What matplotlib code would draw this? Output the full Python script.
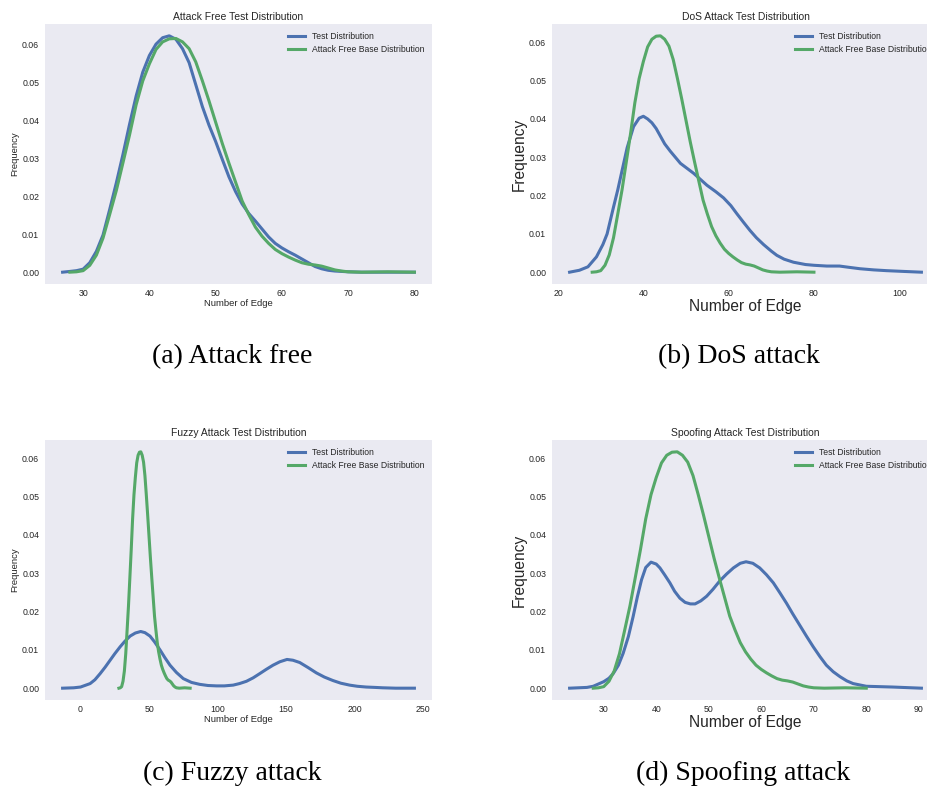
import matplotlib
matplotlib.use("Agg")
import matplotlib.pyplot as plt

# attack free base distribution (same curve in every panel)
base_x = [28, 29, 30, 31, 32, 33, 34, 35, 36, 37, 38, 39, 40, 41, 42, 43, 44, 45,
          46, 47, 48, 49, 50, 51, 52, 53, 54, 55, 56, 57, 58, 59, 60, 61, 62, 63,
          64, 65, 66, 67, 68, 69, 70, 72, 76, 80]
base_y = [0.0, 0.0001, 0.0004, 0.0018, 0.0045, 0.0090, 0.0152, 0.0215, 0.0288,
          0.0362, 0.0442, 0.0505, 0.0550, 0.0588, 0.0608, 0.0616, 0.0617, 0.0608,
          0.0590, 0.0555, 0.0505, 0.0452, 0.0396, 0.0340, 0.0288, 0.0238, 0.0188,
          0.0152, 0.0119, 0.0095, 0.0076, 0.0060, 0.0049, 0.0040, 0.0032, 0.0025,
          0.0021, 0.0019, 0.0016, 0.0011, 0.0006, 0.0003, 0.0001, 0.0, 0.0001, 0.0]

# test distributions
free_x = [26.9, 28, 29, 30, 31, 32, 33, 34, 35, 36, 37, 38, 39, 40, 41, 42, 43, 44,
          45, 46, 47, 48, 49, 50, 51, 52, 53, 54, 55, 56, 57, 58, 59, 60, 61, 62,
          63, 64, 65, 66, 67, 68, 70, 72, 80]
free_y = [0.0, 0.0002, 0.0004, 0.0008, 0.0025, 0.0055, 0.0098, 0.0165, 0.0235,
          0.0310, 0.0390, 0.0465, 0.0528, 0.0572, 0.0602, 0.0619, 0.0624, 0.0615,
          0.0590, 0.0553, 0.0495, 0.0437, 0.0388, 0.0345, 0.0298, 0.0252, 0.0213,
          0.0180, 0.0155, 0.0135, 0.0114, 0.0093, 0.0076, 0.0064, 0.0054, 0.0045,
          0.0035, 0.0025, 0.0015, 0.0009, 0.0005, 0.0003, 0.0001, 0.0, 0.0]

dos_x = [22.7, 25, 27, 29, 30.5, 31.5, 33, 34, 35, 36.2, 37.7, 39, 40, 41, 42, 43,
         44, 45, 46.3, 48.7, 51.8, 54.9, 57, 58.8, 60.5, 61.9, 63.5, 65, 66.5, 68.2,
         70, 71.3, 73, 75.2, 78, 80, 83, 86, 88, 90.8, 94, 97, 101, 105.2]
dos_y = [0.0, 0.0005, 0.0014, 0.0040, 0.0072, 0.0100, 0.0170, 0.0215, 0.0265,
         0.0325, 0.0380, 0.0402, 0.0407, 0.0400, 0.0390, 0.0375, 0.0355, 0.0335,
         0.0316, 0.0284, 0.0258, 0.0227, 0.0210, 0.0194, 0.0174, 0.0153, 0.0130,
         0.0109, 0.0090, 0.0072, 0.0055, 0.0044, 0.0034, 0.0026, 0.0020, 0.0018,
         0.0016, 0.0016, 0.0013, 0.0009, 0.0006, 0.0004, 0.0002, 0.0]

fuzzy_x = [-13.1, -5, 0, 7, 10.5, 14.3, 18, 21.6, 25, 28.9, 32.5, 36.2, 40, 43.9,
           47, 50.7, 54, 58, 61.5, 65.3, 70, 75, 81, 87, 93, 99.3, 105, 111.4, 116,
           121.1, 126, 130.8, 135.5, 140.5, 145.5, 150.7, 155, 160, 166, 172.1, 178,
           184.2, 190, 196.4, 202, 208.5, 215, 220.6, 230, 243.7]
fuzzy_y = [0.0, 0.0001, 0.0003, 0.0012, 0.0022, 0.0038, 0.0055, 0.0073, 0.0090,
           0.0108, 0.0123, 0.0136, 0.0144, 0.0148, 0.0145, 0.0136, 0.0121, 0.0100,
           0.0080, 0.0060, 0.0041, 0.0025, 0.0015, 0.0010, 0.0007, 0.0006, 0.0006,
           0.0008, 0.0012, 0.0018, 0.0027, 0.0038, 0.0049, 0.0060, 0.0069, 0.0075,
           0.0073, 0.0067, 0.0054, 0.0040, 0.0029, 0.0020, 0.0013, 0.0008, 0.0005,
           0.0003, 0.0002, 0.0001, 0.0, 0.0]

spoof_x = [23.5, 26.8, 28, 30, 31, 31.8, 32.8, 33.7, 34.7, 35.6, 36.4, 37.2, 38, 39,
           40, 40.7, 41.6, 42.6, 43.5, 44.5, 45.5, 46.5, 47.4, 48.5, 49.6, 50.8, 52.1,
           53.4, 54.7, 56, 57.1, 58.4, 59.7, 61, 62.3, 63.5, 64.8, 66, 67.3, 68.6,
           69.9, 71.2, 72.4, 73.7, 75, 76.3, 77.5, 80, 85, 90.5]
spoof_y = [0.0, 0.0002, 0.0005, 0.0017, 0.0026, 0.0038, 0.0060, 0.0091, 0.0135,
           0.0187, 0.0238, 0.0283, 0.0315, 0.0329, 0.0324, 0.0314, 0.0296, 0.0275,
           0.0253, 0.0235, 0.0224, 0.0220, 0.0220, 0.0228, 0.0240, 0.0258, 0.0280,
           0.0298, 0.0314, 0.0326, 0.0330, 0.0326, 0.0314, 0.0296, 0.0275, 0.0250,
           0.0222, 0.0194, 0.0165, 0.0136, 0.0108, 0.0082, 0.0060, 0.0043, 0.0030,
           0.0019, 0.0012, 0.0005, 0.0003, 0.0]

titles = ["Attack Free Test Distribution", "DoS Attack Test Distribution",
          "Fuzzy Attack Test Distribution", "Spoofing Attack Test Distribution"]
captions = ["(a) Attack free", "(b) DoS attack", "(c) Fuzzy attack", "(d) Spoofing attack"]
test_label = "Test Distribution"
base_label = "Attack Free Base Distribution"

plt.rcParams['font.family'] = ['Liberation Sans', 'DejaVu Sans']
text_color = '#262626'

fig = plt.figure(figsize=(9.27, 7.92), dpi=100)

W, H = 927.0, 792.0
# pixel boxes: left, top, right, bottom (right panels run past the edge)
boxes = [(45, 24, 432, 284), (552, 24, 939, 284),
         (45, 440, 432, 700), (552, 440, 939, 700)]
label_sizes = [6.8, 11.2, 6.8, 11.2]
tests = [(free_x, free_y), (dos_x, dos_y), (fuzzy_x, fuzzy_y), (spoof_x, spoof_y)]
caption_pos = [(232, 357), (739, 357), (232, 773), (743, 773)]

for i in range(4):
    l, t, r, b = boxes[i]
    ax = fig.add_axes([l / W, 1 - b / H, (r - l) / W, (b - t) / H])
    ax.set_facecolor('#EAEAF2')
    for s in ax.spines.values():
        s.set_visible(False)
    tx, ty = tests[i]
    ax.plot(tx, ty, color='#4C72B0', lw=2.2, solid_joinstyle='round', label=test_label)
    ax.plot(base_x, base_y, color='#55A868', lw=2.2, solid_joinstyle='round', label=base_label)
    ax.tick_params(axis='both', length=0, labelsize=6.3, colors=text_color)
    ax.tick_params(axis='x', pad=3.3)
    ax.tick_params(axis='y', pad=4.2)
    ax.set_title(titles[i], fontsize=7.5, color=text_color, pad=3)
    ax.set_xlabel("Number of Edge", fontsize=label_sizes[i], color=text_color, labelpad=1)
    ax.set_ylabel("Frequency", fontsize=label_sizes[i], color=text_color, labelpad=2)
    leg = ax.legend(loc='upper right', fontsize=6.2, frameon=False)
    for txt in leg.get_texts():
        txt.set_color(text_color)
    cx, cy = caption_pos[i]
    fig.text(cx / W, 1 - cy / H, captions[i], fontsize=20, family='Liberation Serif',
             ha='center', va='center', color='black')

fig.savefig("out.png", dpi=100, facecolor='white')
